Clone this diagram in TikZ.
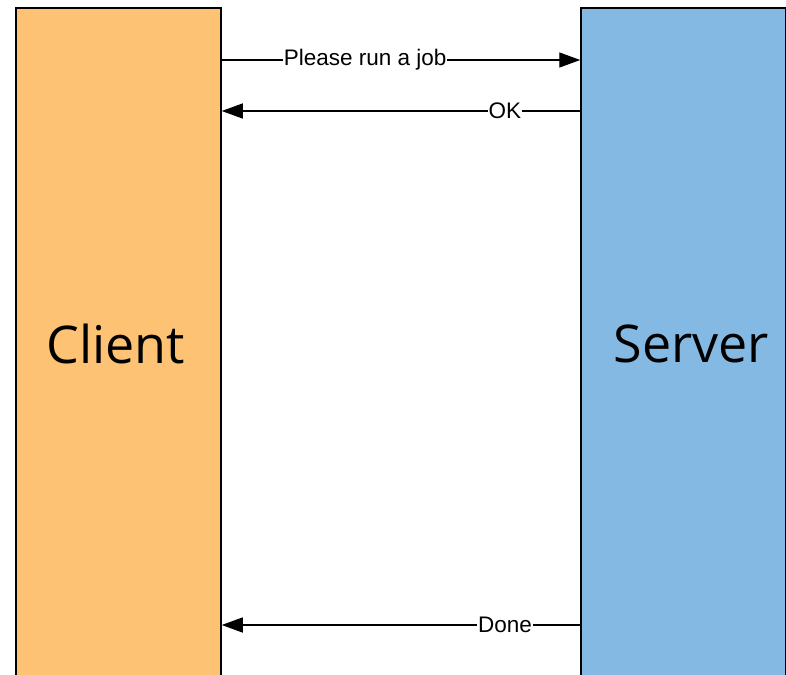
\documentclass[tikz,border=0pt]{standalone}
\usepackage{fontspec}
\setmainfont{Liberation Sans}
\newfontfamily\boxfont{Open Sans}
\usepackage{tikz}
\usetikzlibrary{arrows.meta,positioning}
\definecolor{clientorange}{HTML}{FDC273}
\definecolor{serverblue}{HTML}{84B9E3}

\tikzset{
    party/.style={draw=black, line width=1.5pt, minimum width=205pt, minimum height=672pt,
        font=\boxfont\fontsize{52}{60}\selectfont},
    msg/.style={line width=1.4pt, -{Triangle[length=21pt,width=15pt]}},
    msglabel/.style={fill=white, inner xsep=1pt, inner ysep=2pt, font=\fontsize{22.5}{26}\selectfont}
}

\begin{document}
\begin{tikzpicture}[x=1pt, y=-1pt]
    \useasboundingbox (0,0) rectangle (786,674);
    \clip (0,0) rectangle (786,674);
    \fill[white] (0,0) rectangle (786,674);

    % the two parties
    \node[party, fill=clientorange] (client) at (118.5,344) {Client\hspace*{6pt}};
    \node[party, fill=serverblue] (server) at (683.5,344) {\hspace*{16pt}Server};

    % request goes right
    \draw[msg] (client.east |- 0,60) -- node[msglabel, pos=0.40] {Please run a job} (server.west |- 0,60);

    % replies come back left
    \foreach \y/\text in {111/OK, 625/Done} {
        \draw[msg] (server.west |- 0,\y) -- node[msglabel, pos=0.21] {\text} (client.east |- 0,\y);
    }
\end{tikzpicture}
\end{document}
